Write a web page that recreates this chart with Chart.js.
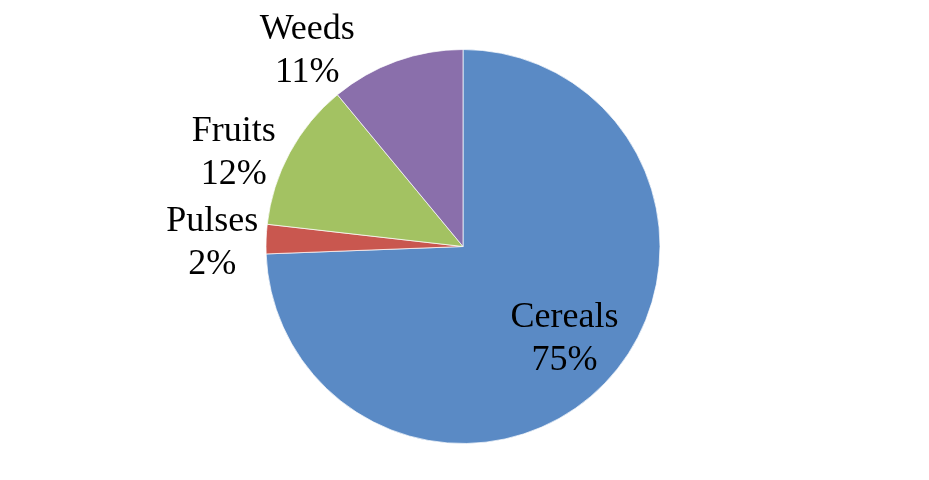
<!DOCTYPE html>
<html>
<head>
<meta charset="utf-8">
<script src="https://cdn.jsdelivr.net/npm/chart.js@4.4.0/dist/chart.umd.min.js"></script>
<style>
  html, body { margin: 0; padding: 0; background: #ffffff; }
  #wrap { width: 929px; height: 480px; }
</style>
</head>
<body>
<div id="wrap"><canvas id="pie" width="929" height="480"></canvas></div>
<script>
const categories = ['Cereals', 'Pulses', 'Fruits', 'Weeds'];
const shares = [74.4, 2.4, 12.2, 11.0];
const pctLabels = ['75%', '2%', '12%', '11%'];
const sliceColors = ['#5A8AC5', '#C9574F', '#A3C262', '#8A6FAB'];

// where each label sits: fraction of radius along the slice middle, then a nudge
const labelRadius = [0.68, 1, 1, 1];
const labelNudge = [[5, -3], [-54, 1], [-56, -2], [-89, -13]];

const pieLabels = {
    id: 'pieLabels',
    afterDatasetsDraw(chart) {
        const ctx = chart.ctx;
        const meta = chart.getDatasetMeta(0);
        ctx.save();
        ctx.font = '36px "Liberation Serif", "Times New Roman", serif';
        ctx.fillStyle = '#000000';
        ctx.textAlign = 'center';
        ctx.textBaseline = 'alphabetic';
        meta.data.forEach((arc, i) => {
            const p = arc.getProps(['x', 'y', 'startAngle', 'endAngle', 'outerRadius'], true);
            const mid = (p.startAngle + p.endAngle) / 2;
            const r = p.outerRadius * labelRadius[i];
            const cx = p.x + Math.cos(mid) * r + labelNudge[i][0];
            const cy = p.y + Math.sin(mid) * r + labelNudge[i][1];
            ctx.fillText(categories[i], cx, cy - 21.5 + 12);
            ctx.fillText(pctLabels[i], cx, cy + 21.5 + 12);
        });
        ctx.restore();
    }
};

new Chart(document.getElementById('pie').getContext('2d'), {
    type: 'pie',
    data: {
        labels: categories,
        datasets: [{
            data: shares,
            backgroundColor: sliceColors,
            borderColor: 'rgba(255,255,255,0.7)',
            borderWidth: 1
        }]
    },
    options: {
        responsive: false,
        animation: false,
        layout: { padding: { top: 49, bottom: 36, left: 0, right: 3 } },
        plugins: {
            legend: { display: false },
            tooltip: { enabled: false }
        }
    },
    plugins: [pieLabels]
});
</script>
</body>
</html>
